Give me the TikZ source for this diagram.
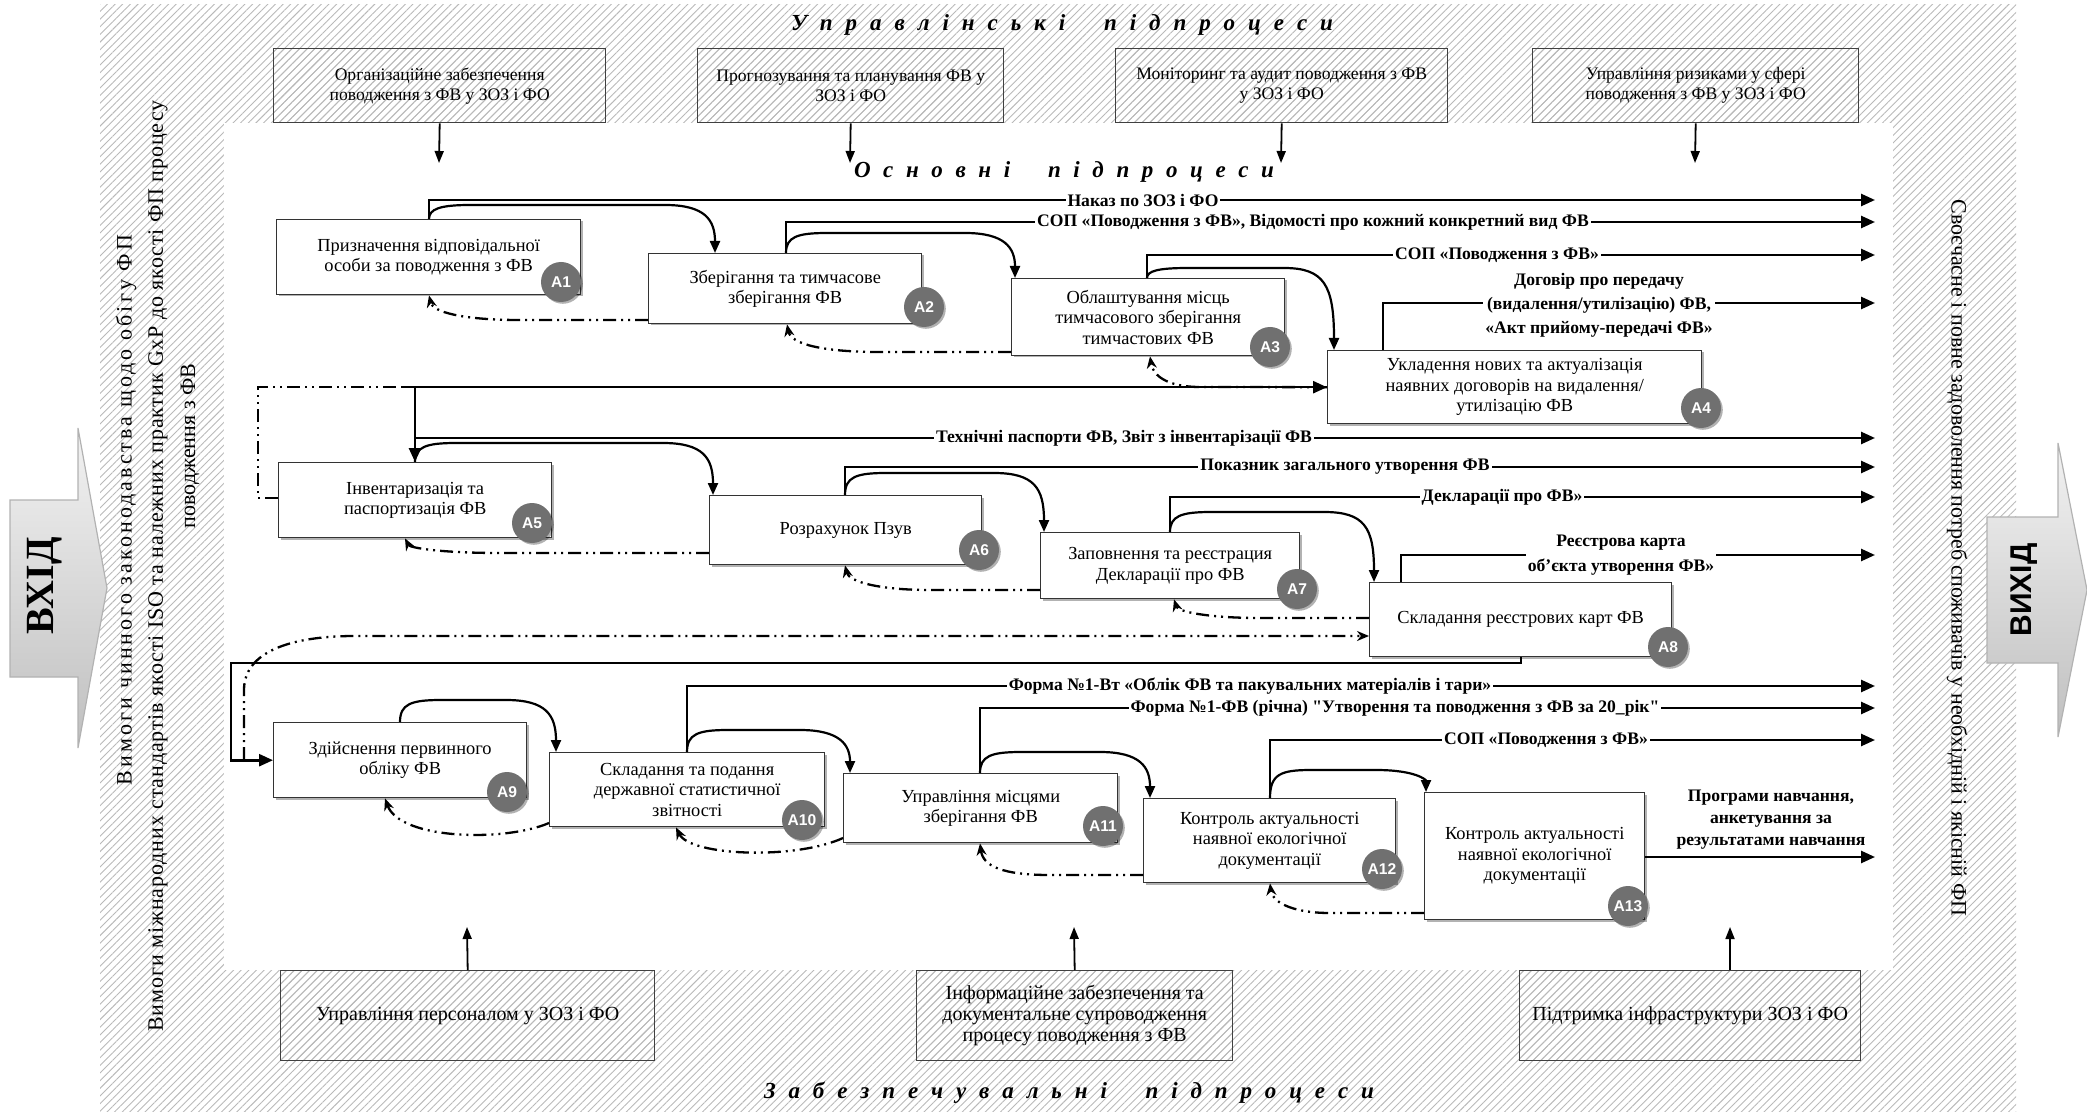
\documentclass[tikz,border=0pt]{standalone}
\usepackage{fontspec}
\setmainfont{Liberation Serif}
\setsansfont{Liberation Sans}
\usetikzlibrary{arrows.meta,patterns.meta,calc,shadows}
\definecolor{hatchc}{RGB}{185,185,185}
\definecolor{circc}{RGB}{112,112,112}
\newcommand\boxfont{\fontsize{9.2}{10.2}\selectfont}
\newcommand\topfont{\fontsize{8.8}{10}\selectfont}
\newcommand\botfont{\fontsize{10}{10.5}\selectfont}
\newcommand\lblfont{\bfseries\fontsize{8.8}{10}\selectfont}
\newcommand\ttlfont{\bfseries\itshape\fontsize{11.5}{13}\selectfont}
\newcommand\sq{\XeTeXglyph\XeTeXcharglyph"22\relax}
\tikzset{
  hatchfill/.style={pattern={Lines[angle=45,distance=2.7pt,line width=0.45pt]}, pattern color=hatchc},
  shd/.style={drop shadow={shadow xshift=0.9pt, shadow yshift=-0.9pt, opacity=0.3, fill=black}},
  abox/.style={draw=black!80, line width=0.7pt, fill=white, shd, align=center, font=\boxfont, anchor=north west, inner sep=2pt},
  tbox/.style={draw=black!75, line width=0.7pt, hatchfill, align=center, font=\topfont, anchor=north west, inner sep=2pt},
  circ/.style={circle, fill=circc, shd, minimum size=20pt, inner sep=0pt, text=white, font=\sffamily\bfseries\fontsize{7.8}{8}\selectfont},
  outl/.style={line width=1.3pt, -{Triangle[length=7pt,width=6pt]}},
  curv/.style={line width=1.1pt, -{Triangle[length=6pt,width=5pt]}},
  tarr/.style={line width=0.9pt, -{Triangle[length=6pt,width=4.5pt]}},
  retp/.style={line width=1.15pt, dash pattern=on 6.5pt off 2.5pt on 1pt off 2.5pt on 1pt off 2.5pt},
  ret/.style={retp, -{Stealth[length=6pt,width=5pt]}},
  lbl/.style={font=\lblfont, fill=white, inner sep=1pt, align=center},
  side/.style={font=\fontsize{11}{13}\selectfont, inner sep=0pt},
  ttl/.style={font=\ttlfont, inner sep=0pt},
  inarrow/.style={draw=gray!60, line width=0.6pt, top color=gray!10, bottom color=gray!50},
}
\begin{document}
\begin{tikzpicture}[x=0.5pt,y=-0.5pt]
\useasboundingbox (0,0) rectangle (2087,1112);
% background
\fill[hatchfill] (100,5) rectangle (2016,1112);
\fill[white] (224,123) rectangle (1893,970);

% input / output arrows
\draw[inarrow] (10,500) -- (78,500) -- (78,428) -- (107,588) -- (78,748) -- (78,677) -- (10,677) -- cycle;
\node[rotate=90, font=\bfseries\fontsize{20}{22}\selectfont] (vin) at (45,586) {ВХІД};
\draw[inarrow] (1987,517) -- (2058,517) -- (2058,443) -- (2087,590) -- (2058,737) -- (2058,663) -- (1987,663) -- cycle;
\node[rotate=90, font=\sffamily\bfseries\fontsize{15}{16}\selectfont] (vout) at (2024,590) {ВИХІД};

% titles
\node[ttl] (h1) at (1062,25) {\makebox[271pt][s]{У п р а в л і н с ь к і~~~п і д п р о ц е с и}};
\node[ttl] (h2) at (1064,172) {\makebox[210pt][s]{О с н о в н і~~~п і д п р о ц е с и}};
\node[ttl] (h3) at (1069,1093) {\makebox[305pt][s]{З а б е з п е ч у в а л ь н і~~~п і д п р о ц е с и}};

% side texts
\node[side, rotate=90] (s1) at (126,510) {\addfontfeature{LetterSpace=14}Вимоги чинного законодавства щодо обігу ФП};
\node[side, rotate=90] (s2) at (158,566) {\addfontfeature{LetterSpace=4}Вимоги міжнародних стандартів якості ISO та належних практик GxP до якості ФП процесу};
\node[side, rotate=90] (s3) at (190,446) {поводження з ФВ};
\node[side, rotate=-90] (s4) at (1957,558) {Своєчасне і повне задоволення потреб споживачів у необхідній і якісній ФП};

% top boxes
\node[tbox, minimum width=166pt, minimum height=37pt] (t1) at (273,48) {Організаційне забезпечення\\поводження з ФВ у ЗОЗ і ФО};
\node[tbox, minimum width=153pt, minimum height=37pt] (t2) at (697,48) {Прогнозування та планування ФВ у\\ЗОЗ і ФО};
\node[tbox, minimum width=166pt, minimum height=37pt] (t3) at (1115,48) {Моніторинг та аудит поводження з ФВ\\у ЗОЗ і ФО};
\node[tbox, minimum width=163pt, minimum height=37pt] (t4) at (1532,48) {Управління ризиками у сфері\\поводження з ФВ у ЗОЗ і ФО};
\coordinate (d1) at (439,163);
\coordinate (d2) at (850,163);
\coordinate (d3) at (1281,163);
\coordinate (d4) at (1695,163);
\draw[tarr] (t1.south) -- (d1);
\draw[tarr] (t2.south) -- (d2);
\draw[tarr] (t3.south) -- (d3);
\draw[tarr] (t4.south) -- (d4);

% bottom boxes
\node[tbox, font=\botfont, minimum width=187pt, minimum height=45pt] (b1) at (280,970) {Управління персоналом у ЗОЗ і ФО};
\node[tbox, font=\botfont, minimum width=158pt, minimum height=45pt] (b2) at (916,970) {Інформаційне забезпечення та\\документальне супроводження\\процесу поводження з ФВ};
\node[tbox, font=\botfont, minimum width=170.5pt, minimum height=45pt] (b3) at (1519,970) {Підтримка інфраструктури ЗОЗ і ФО};
\coordinate (u1) at (467,927);
\coordinate (u2) at (1074,927);
\coordinate (u3) at (1730,927);
\draw[tarr] (b1.north) -- (u1);
\draw[tarr] (b2.north) -- (u2);
\draw[tarr] (b3.north -| 1730,0) -- (u3);

% main boxes
\node[abox, minimum width=152pt, minimum height=37.5pt] (a1) at (276,219) {Призначення відповідальної\\особи за поводження з ФВ};
\node[abox, minimum width=136.5pt, minimum height=35pt] (a2) at (648,253) {Зберігання та тимчасове\\зберігання ФВ};
\node[abox, minimum width=136.5pt, minimum height=38.5pt] (a3) at (1011,278) {Облаштування місць\\тимчасового зберігання\\тимчастових ФВ};
\node[abox, minimum width=187pt, minimum height=36.5pt] (a4) at (1327,350) {Укладення нових та актуалізація\\наявних договорів на видалення/\\утилізацію ФВ};
\node[abox, minimum width=136.5pt, minimum height=37.5pt] (a5) at (278,462) {Інвентаризація та\\паспортизація ФВ};
\node[abox, minimum width=136pt, minimum height=34.5pt] (a6) at (709,495) {Розрахунок Пзув};
\node[abox, minimum width=129.5pt, minimum height=33pt] (a7) at (1040,532) {Заповнення та реєстрация\\Декларації про ФВ};
\node[abox, minimum width=151pt, minimum height=37pt] (a8) at (1369,582) {Складання реєстрових карт ФВ};
\node[abox, minimum width=126.5pt, minimum height=37.5pt] (a9) at (273,722) {Здійснення первинного\\обліку ФВ};
\node[abox, minimum width=137.5pt, minimum height=37pt] (a10) at (549,752) {Складання та подання\\державної статистичної\\звітності};
\node[abox, minimum width=137pt, minimum height=34.5pt] (a11) at (843,773) {Управління місцями\\зберігання ФВ};
\node[abox, minimum width=126pt, minimum height=42pt] (a12) at (1143,798) {Контроль актуальності\\наявної екологічної\\документації};
\node[abox, minimum width=110pt, minimum height=63.5pt] (a13) at (1424,792) {Контроль актуальності\\наявної екологічної\\документації};

% circles
\node[circ] (k1) at (561,282) {A1};
\node[circ] (k2) at (924,307) {A2};
\node[circ] (k3) at (1270,347) {A3};
\node[circ] (k4) at (1701,408) {A4};
\node[circ] (k5) at (532,523) {A5};
\node[circ] (k6) at (979,550) {A6};
\node[circ] (k7) at (1297,589) {A7};
\node[circ] (k8) at (1668,647) {A8};
\node[circ] (k9) at (507,792) {A9};
\node[circ] (k10) at (802,820) {A10};
\node[circ] (k11) at (1103,826) {A11};
\node[circ] (k12) at (1382,869) {A12};
\node[circ] (k13) at (1628,906) {A13};

% output lines
\coordinate (o1) at (1875,200);
\coordinate (o2) at (1875,222);
\coordinate (o3) at (1875,255);
\coordinate (o4) at (1875,303);
\coordinate (o5) at (1875,438);
\coordinate (o6) at (1875,467);
\coordinate (o7) at (1875,497);
\coordinate (o8) at (1875,555);
\coordinate (o10) at (1875,686);
\coordinate (o11) at (1875,708);
\coordinate (o12) at (1875,740);
\coordinate (o13) at (1875,857);
\draw[outl] (a1.north -| 429,0) |- (o1);
\draw[outl] (a2.north -| 786,0) |- (o2);
\draw[outl] (a3.north -| 1147,0) |- (o3);
\draw[outl] (a4.north -| 1383,0) |- (o4);
\coordinate (j4a) at (a4.west -| 402,0);
\coordinate (j4) at (a4.west -| 415,0);
\coordinate (j5) at (415,438);
\draw[outl] (j4a) -- (a4.west);
\draw[outl] (j4) -- (a5.north -| 415,0);
\draw[outl] (j5) -- (o5);
\draw[outl] (a6.north -| 845,0) |- (o6);
\draw[outl] (a7.north -| 1170,0) |- (o7);
\draw[outl] (a8.north -| 1401,0) |- (o8);
\draw[outl] (a8.south -| 1521,0) |- (231,663) |- (a9.west);
\draw[outl] (a10.north -| 687,0) |- (o10);
\draw[outl] (a11.north -| 980,0) |- (o11);
\draw[outl] (a12.north -| 1270,0) |- (o12);
\draw[outl] (a13.east |- 0,857) -- (o13);

% hop curves
\draw[curv] (a1.north -| 429,0) .. controls (429,209) and (440,205) .. (470,205) -- (665,205) .. controls (705,205) and (715,220) .. (a2.north -| 715,0);
\draw[curv] (a2.north -| 786,0) .. controls (786,237) and (797,233) .. (827,233) -- (965,233) .. controls (1005,233) and (1015,248) .. (a3.north -| 1015,0);
\draw[curv] (a3.north -| 1147,0) .. controls (1147,271) and (1158,268) .. (1188,268) -- (1284,268) .. controls (1324,268) and (1334,285) .. (a4.north -| 1334,0);
\draw[curv] (a5.north -| 415,0) .. controls (415,447) and (426,443) .. (456,443) -- (663,443) .. controls (703,443) and (713,458) .. (a6.north -| 713,0);
\draw[curv] (a6.north -| 845,0) .. controls (845,477) and (856,473) .. (886,473) -- (994,473) .. controls (1034,473) and (1044,488) .. (a7.north -| 1044,0);
\draw[curv] (a7.north -| 1170,0) .. controls (1170,516) and (1181,512) .. (1211,512) -- (1324,512) .. controls (1364,512) and (1374,527) .. (a8.north -| 1374,0);
\draw[curv] (a9.north -| 400,0) .. controls (400,704) and (411,700) .. (441,700) -- (506,700) .. controls (546,700) and (556,715) .. (a10.north -| 556,0);
\draw[curv] (a10.north -| 687,0) .. controls (687,734) and (698,730) .. (728,730) -- (800,730) .. controls (840,730) and (850,745) .. (a11.north -| 850,0);
\draw[curv] (a11.north -| 980,0) .. controls (980,756) and (991,752) .. (1021,752) -- (1100,752) .. controls (1140,752) and (1150,767) .. (a12.north -| 1150,0);
\draw[curv] (a12.north -| 1270,0) .. controls (1270,774) and (1281,770) .. (1311,770) -- (1376,770) .. controls (1416,770) and (1426,780) .. (a13.north -| 1426,0);

% return (dash-dot) connectors
\draw[ret] (a2.west |- 0,320) -- (520,320) .. controls (462,320) and (433,312) .. (a1.south -| 429,0);
\draw[ret] (a3.west |- 0,352) -- (880,352) .. controls (822,352) and (791,344) .. (a2.south -| 787,0);
\draw[ret] (a4.west) -- (1200,387) .. controls (1168,387) and (1153,376) .. (a3.south -| 1150,0);
\draw[retp] (a5.west |- 0,498) -- (258,498) |- (j4a);
\draw[ret] (a6.west |- 0,553) -- (500,553) .. controls (442,553) and (410,548) .. (a5.south -| 405,0);
\draw[ret] (a7.west |- 0,590) -- (930,590) .. controls (880,590) and (849,582) .. (a6.south -| 845,0);
\draw[ret] (a8.west |- 0,618) -- (1260,618) .. controls (1210,618) and (1178,612) .. (a7.south -| 1174,0);
\draw[ret] (a9.west -| 244,0) -- (244,690) .. controls (244,652) and (290,636) .. (355,636) -- (a8.west |- 0,636);
\draw[ret] (a10.west |- 0,823) .. controls (505,842) and (400,840) .. (a9.south -| 385,0);
\draw[ret] (a11.west |- 0,838) .. controls (795,860) and (690,856) .. (a10.south -| 676,0);
\draw[ret] (a12.west |- 0,875) -- (1050,875) .. controls (1002,875) and (983,866) .. (a11.south -| 980,0);
\draw[ret] (a13.west |- 0,913) -- (1330,913) .. controls (1290,913) and (1272,901) .. (a12.south -| 1270,0);

% labels
\node[lbl] (l1) at (1143,200) {Наказ по ЗОЗ і ФО};
\node[lbl] (l2) at (1313,222) {СОП «Поводження з ФВ», Відомості про кожний конкретний вид ФВ};
\node[lbl] (l3) at (1497,255) {СОП «Поводження з ФВ»};
\node[lbl, font=\bfseries\fontsize{8.8}{12}\selectfont] (l4) at (1599,305) {Договір про передачу\\(видалення/утилізацію) ФВ,\\«Акт прийому-передачі ФВ»};
\node[lbl] (l5) at (1124,438) {Технічні паспорти ФВ, Звіт з інвентарізації ФВ};
\node[lbl] (l6) at (1345,467) {Показник загального утворення ФВ};
\node[lbl] (l7) at (1502,497) {Декларації про ФВ»};
\node[lbl, font=\bfseries\fontsize{8.8}{12.5}\selectfont] (l8) at (1621,555) {Реєстрова карта\\об’єкта утворення ФВ»};
\node[lbl] (l10) at (1250,686) {Форма №1-Вт «Облік ФВ та пакувальних матеріалів і тари»};
\node[lbl] (l11) at (1395,708) {Форма №1-ФВ (річна) \sq Утворення та поводження з ФВ за 20\_рік\sq};
\node[lbl] (l12) at (1546,740) {СОП «Поводження з ФВ»};
\node[lbl, fill=none, font=\bfseries\fontsize{8.8}{11}\selectfont] (l13) at (1771,820) {Програми навчання,\\анкетування за\\результатами навчання};
\end{tikzpicture}
\end{document}
